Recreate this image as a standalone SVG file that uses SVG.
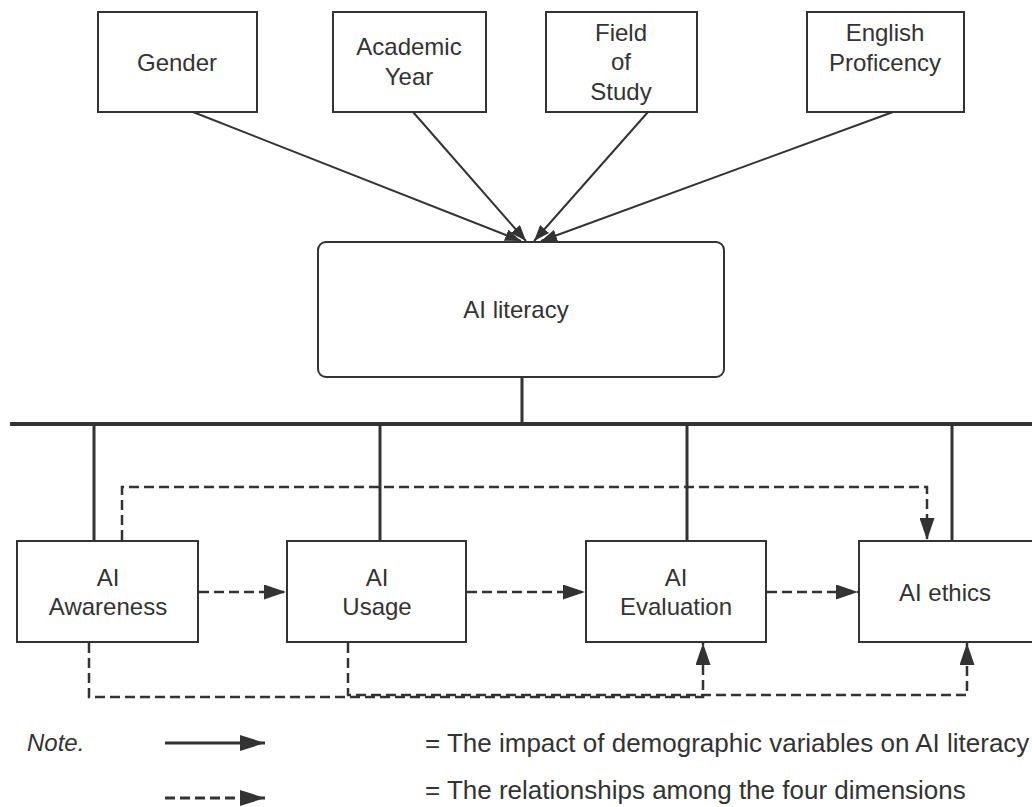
<svg xmlns="http://www.w3.org/2000/svg" width="1032" height="807" viewBox="0 0 1032 807">
<style>
.box{fill:#fff;stroke:#333;stroke-width:2}
.t{font-family:"Liberation Sans",Arial,sans-serif;font-size:24px;fill:#333;text-anchor:middle}
.lg{font-family:"Liberation Sans",Arial,sans-serif;font-size:24px;fill:#333}
.lgt{font-family:"Liberation Sans",Arial,sans-serif;font-size:26px;fill:#333}
.solid{stroke:#333;stroke-width:2;fill:none}
.dash{stroke:#333;stroke-width:2.5;fill:none;stroke-dasharray:10 5}
.bar{stroke:#333;stroke-width:3;fill:none}
</style>
<defs>
<marker id="ah" viewBox="0 0 22 15" refX="22" refY="7.5" markerWidth="22" markerHeight="15" markerUnits="userSpaceOnUse" orient="auto"><path d="M0,0 L22,7.5 L0,15 z" fill="#333"/></marker>
<marker id="ahs" viewBox="0 0 16 12" refX="16" refY="6" markerWidth="16" markerHeight="12" markerUnits="userSpaceOnUse" orient="auto"><path d="M0,0 L16,6 L0,12 z" fill="#333"/></marker>
<marker id="ahl" viewBox="0 0 25 16" refX="25" refY="8" markerWidth="25" markerHeight="16" markerUnits="userSpaceOnUse" orient="auto"><path d="M0,0 L25,8 L0,16 z" fill="#333"/></marker>
</defs>
<g id="connectors">
<line class="solid" x1="193" y1="112" x2="521" y2="241" marker-end="url(#ahs)"/>
<line class="solid" x1="413" y1="112" x2="526" y2="241" marker-end="url(#ahs)"/>
<line class="solid" x1="648" y1="112" x2="534" y2="241" marker-end="url(#ahs)"/>
<line class="solid" x1="893" y1="112" x2="541" y2="241" marker-end="url(#ahs)"/>
<line class="bar" x1="522" y1="377" x2="522" y2="424"/>
<line x1="10" y1="424" x2="1032" y2="424" stroke="#333" stroke-width="4"/>
<line class="bar" x1="94" y1="424" x2="94" y2="541"/>
<line class="bar" x1="380" y1="424" x2="380" y2="541"/>
<line class="bar" x1="687" y1="424" x2="687" y2="541"/>
<line class="bar" x1="952" y1="424" x2="952" y2="541"/>
<line class="dash" x1="199" y1="592" x2="286" y2="592" marker-end="url(#ah)"/>
<line class="dash" x1="467" y1="592" x2="585" y2="592" marker-end="url(#ah)"/>
<line class="dash" x1="767" y1="592" x2="858" y2="592" marker-end="url(#ah)"/>
<polyline class="dash" points="122,540 122,487 927,487 927,540" marker-end="url(#ah)"/>
<polyline class="dash" points="89,643 89,697 703,697 703,643" marker-end="url(#ah)"/>
<polyline class="dash" points="348,643 348,695 967,695 967,643" marker-end="url(#ah)"/>
</g>
<g id="gender"><rect class="box" x="98" y="12" width="159" height="100"/><text class="t" x="177" y="71">Gender</text></g>
<g id="academic-year"><rect class="box" x="333" y="12" width="153" height="100"/><text class="t" x="409" y="55">Academic</text><text class="t" x="409" y="85">Year</text></g>
<g id="field-of-study"><rect class="box" x="546" y="12" width="151" height="100"/><text class="t" x="621" y="41">Field</text><text class="t" x="621" y="70">of</text><text class="t" x="621" y="100">Study</text></g>
<g id="english-proficiency"><rect class="box" x="807" y="12" width="157" height="100"/><text class="t" x="885" y="41">English</text><text class="t" x="885" y="71">Proficency</text></g>
<g id="ai-literacy"><rect class="box" x="318" y="242" width="406" height="135" rx="8"/><text class="t" x="516" y="318">AI literacy</text></g>
<g id="ai-awareness"><rect class="box" x="17" y="541" width="181" height="101"/><text class="t" x="108" y="586">AI</text><text class="t" x="108" y="615">Awareness</text></g>
<g id="ai-usage"><rect class="box" x="287" y="541" width="179" height="101"/><text class="t" x="377" y="586">AI</text><text class="t" x="377" y="615">Usage</text></g>
<g id="ai-evaluation"><rect class="box" x="586" y="541" width="180" height="101"/><text class="t" x="676" y="586">AI</text><text class="t" x="676" y="615">Evaluation</text></g>
<g id="ai-ethics"><rect class="box" x="859" y="541" width="185" height="101"/><text class="t" x="945" y="601">AI ethics</text></g>
<g id="legend">
<text class="lg" x="27" y="751" font-style="italic">Note.</text>
<line x1="165" y1="743" x2="265" y2="743" stroke="#333" stroke-width="3" marker-end="url(#ahl)"/>
<text class="lgt" x="425" y="752">= The impact of demographic variables on AI literacy</text>
<line x1="165" y1="798" x2="265" y2="798" stroke="#333" stroke-width="3" stroke-dasharray="10 5" marker-end="url(#ahl)"/>
<text class="lgt" x="425" y="799">= The relationships among the four dimensions</text>
</g>
</svg>
